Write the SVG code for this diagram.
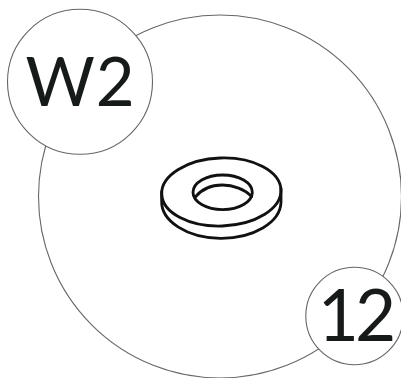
<svg xmlns="http://www.w3.org/2000/svg" width="401" height="378" viewBox="0 0 401 378">
<style>
.c{fill:#fff;stroke:#666;stroke-width:1.1}
.t{font-family:Lato,"Liberation Sans",sans-serif;fill:#161a18;text-anchor:middle}
.w{fill:none;stroke:#111;stroke-width:8.500;stroke-linejoin:round;stroke-linecap:round}
</style>
<circle class="c" cx="220" cy="196.500" r="181.500"/>
<g id="washer" transform="translate(145 145) scale(.3333)">
<ellipse class="w" cx="229" cy="141" rx="179" ry="102" transform="rotate(-2 229 141)"/>
<path class="w" d="M50 140L50 168A179 110 0 0 0 408 172L408 130"/>
<ellipse class="w" cx="233" cy="142" rx="89" ry="52"/>
<path class="w" d="M150 157C170 132 200 120 232 120C265 120 300 133 320 155"/>
</g>
<g id="node-w2">
<circle class="c" cx="80" cy="81.800" r="72.500"/>
<text class="t" x="80.500" y="106" font-size="67" letter-spacing="1">W2</text>
</g>
<g id="node-12">
<circle class="c" cx="354.500" cy="316" r="48.700"/>
<text class="t" x="355" y="341" font-size="71" letter-spacing="-4">12</text>
</g>
</svg>
